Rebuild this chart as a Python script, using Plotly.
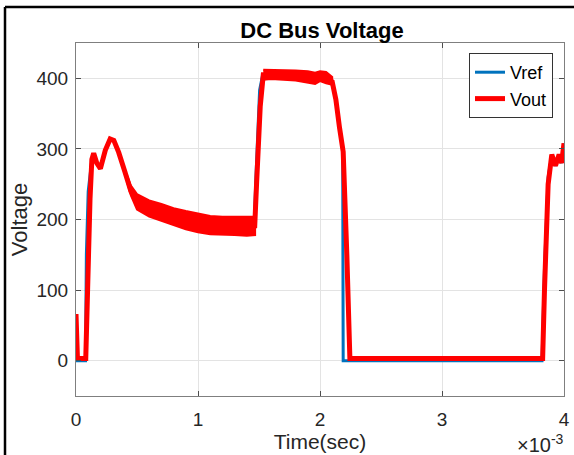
import plotly.graph_objects as go

# ---- data (time in units of 1e-3 s) ----
t_vref = [0.0, 0.01, 0.078, 0.085, 0.10, 0.13, 0.145, 0.17, 0.20, 0.24, 0.28, 0.31, 0.35, 0.40, 0.45,
          0.50, 0.60, 0.70, 0.80, 0.90, 1.00, 1.10, 1.20, 1.30, 1.40, 1.46, 1.475, 1.505, 1.53,
          1.60, 1.80, 1.90, 1.96, 2.00, 2.05, 2.10, 2.13, 2.16, 2.186, 2.19, 2.25, 3.00, 3.82,
          3.84, 3.87, 3.90, 3.93, 3.96, 3.98, 4.00]
vref = [60, 0, 0, 150, 240, 285, 293, 280, 272, 298, 314, 312, 295, 268, 240,
        224, 215, 210, 204, 199, 195, 192, 191, 191, 191, 191, 260, 383, 405,
        405, 404, 402, 398, 401, 399, 395, 370, 330, 298, 0, 0, 0, 0,
        130, 260, 292, 276, 292, 280, 308]

t_vout = [0.0, 0.012, 0.08, 0.085, 0.095, 0.115, 0.13, 0.145, 0.17, 0.20, 0.24, 0.28, 0.31, 0.35,
          0.40, 0.45, 0.50, 0.60, 0.70, 0.80, 0.90, 1.00, 1.10, 1.20, 1.30, 1.40, 1.465,
          1.48, 1.51, 1.535, 1.60, 1.80, 1.90, 1.96, 2.00, 2.05, 2.10, 2.13, 2.16, 2.19,
          2.22, 2.245, 2.30, 3.00, 3.825, 3.84, 3.87, 3.90, 3.93, 3.96, 3.98, 4.00]
vout = [66, 3, 3, 40, 120, 230, 285, 294, 280, 272, 298, 314, 312, 295,
        268, 240, 224, 215, 210, 204, 199, 195, 192, 191, 191, 191, 191,
        250, 360, 405, 405, 404, 402, 398, 401, 399, 395, 370, 330, 296,
        150, 3, 3, 3, 3, 100, 250, 292, 276, 292, 280, 308]

# noise envelope of Vout (upper / lower)
t_band1 = [0.42, 0.45, 0.50, 0.60, 0.70, 0.80, 0.90, 1.00, 1.10, 1.20, 1.30, 1.40, 1.468]
vout_hi1 = [262, 248, 236, 227, 222, 216, 212, 208, 205, 204, 204, 204, 204]
vout_lo1 = [252, 234, 214, 204, 198, 192, 186, 182, 179, 178, 178, 177, 178]
t_band2 = [1.535, 1.60, 1.70, 1.80, 1.90, 1.96, 2.00, 2.05, 2.10]
vout_hi2 = [412, 412, 411, 411, 410, 408, 410, 409, 402]
vout_lo2 = [398, 399, 398, 397, 394, 392, 396, 393, 391]

x_ticks = [0, 1, 2, 3, 4]
y_ticks = [0, 100, 200, 300, 400]

RED = "#ff0000"
BLUE = "#0072bd"
FONT = "Liberation Sans, Arial, sans-serif"

fig = go.Figure()
fig.add_trace(go.Scatter(x=t_vref, y=vref, mode="lines", name="Vref",
                         line=dict(color=BLUE, width=3)))
for tb, hi, lo in [(t_band1, vout_hi1, vout_lo1), (t_band2, vout_hi2, vout_lo2)]:
    fig.add_trace(go.Scatter(x=tb + tb[::-1], y=hi + lo[::-1], mode="lines",
                             fill="toself", fillcolor=RED,
                             line=dict(color=RED, width=2),
                             showlegend=False, hoverinfo="skip"))
fig.add_trace(go.Scatter(x=t_vout, y=vout, mode="lines", name="Vout",
                         line=dict(color=RED, width=5)))

axis_common = dict(
    showline=True, linecolor="#7f7f7f", linewidth=1, mirror="ticks",
    ticks="inside", ticklen=5, tickcolor="#4d4d4d",
    showgrid=True, gridcolor="#e3e3e3", gridwidth=1,
    zeroline=False, automargin=False,
    tickfont=dict(family=FONT, size=19, color="#262626"),
)

fig.update_xaxes(range=[0, 4], tickvals=x_ticks, ticklabelstandoff=6,
                 title=dict(text="Time(sec)", font=dict(family=FONT, size=21, color="#262626"),
                            standoff=4),
                 **axis_common)
fig.update_yaxes(range=[-50, 450], tickvals=y_ticks, ticklabelstandoff=3,
                 title=dict(text="Voltage", font=dict(family=FONT, size=22, color="#262626"),
                            standoff=2),
                 **axis_common)

L, R, T, B = 76, 10, 43, 59
W, H = 574, 455
pw, ph = W - L - R, H - T - B

def px_x(p):
    return (p - L) / pw

def px_y(p):
    return (H - B - p) / ph

fig.update_layout(
    width=W, height=H,
    margin=dict(l=L, r=R, t=T, b=B, autoexpand=False),
    paper_bgcolor="white", plot_bgcolor="white",
    title=dict(text="<b>DC Bus Voltage</b>", x=px_x(322), xanchor="center", xref="paper",
               y=1 - 30 / H, yref="container", yanchor="middle",
               font=dict(family=FONT, size=22, color="black")),
    legend=dict(x=px_x(553), y=px_y(53), xanchor="right", yanchor="top",
                bgcolor="white", bordercolor="#333333", borderwidth=1,
                font=dict(family=FONT, size=18, color="black"),
                tracegroupgap=0, itemwidth=30),
    showlegend=True,
    shapes=[
        dict(type="line", xref="paper", yref="paper", x0=px_x(5), x1=px_x(580),
             y0=px_y(7), y1=px_y(7), line=dict(color="black", width=2.5)),
        dict(type="line", xref="paper", yref="paper", x0=px_x(5), x1=px_x(5),
             y0=px_y(7), y1=px_y(460), line=dict(color="black", width=2.5)),
    ],
    annotations=[
        dict(text="×10<sup>-3</sup>", xref="paper", yref="paper",
             x=px_x(566), y=px_y(443), xanchor="right", yanchor="middle",
             showarrow=False, font=dict(family=FONT, size=20, color="#262626")),
    ],
)

fig.write_html("out.html", config={"displayModeBar": False},
               post_script="document.body.style.margin='0';document.body.style.overflow='hidden';")
